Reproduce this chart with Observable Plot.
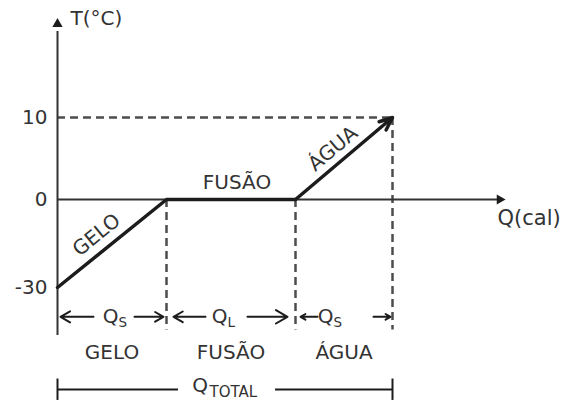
<!DOCTYPE html>
<html><head><meta charset="utf-8">
<script src="https://cdn.jsdelivr.net/npm/d3@7"></script>
<script src="https://cdn.jsdelivr.net/npm/@observablehq/plot@0.6"></script>
<style>html,body{margin:0;padding:0;background:#fff}</style>
</head><body><div id="chart"></div>
<script>
// --- data (schematic heating curve of ice -> water) ---
const phaseLabels = ["GELO", "FUSÃO", "ÁGUA"];
const qBreaks = [0, 109, 238, 335];        // Q (cal), schematic
const tBreaks = [-30, 0, 0, 10];           // T (°C)
const tTicks = [-30, 0, 10];
const tTickLabels = ["-30", "0", "10"];
const heatSymbols = ["Q", "Q", "Q"];
const heatSubs = ["S", "L", "S"];
const heatTextQ = [61, 170, 276];           // right edge of each "Q" (cal units)
const spanArrowStart = [36, 77, 148, 190, 260, 316];
const spanArrowEnd   = [3, 106, 116, 230, 243, 333];
const slopeLabelQ = [39, 179.5, 275.5];
const slopeLabelT = [-12.1, 2.1, 6.2];
const totalLabel = "Q", totalSub = "TOTAL";

// --- derived tables ---
const pts = qBreaks.map((q, i) => ({q, t: tBreaks[i]}));
const phases = phaseLabels.map((p, i) => ({
  label: p, q0: qBreaks[i], q1: qBreaks[i + 1], mid: (qBreaks[i] + qBreaks[i + 1]) / 2,
  qText: heatTextQ[i], sym: heatSymbols[i], sub: heatSubs[i]
}));
const spanArrows = spanArrowStart.map((s, i) => ({x1: s, x2: spanArrowEnd[i]}));
const slopeLabels = phaseLabels.map((p, i) => ({label: p, q: slopeLabelQ[i], t: slopeLabelT[i], rot: [-39, 0, -40][i]}));
const ticks = tTicks.map((t, i) => ({t, label: tTickLabels[i]}));

// layout rows (T units, below the curve)
const ROW_ARROWS = -40, ROW_NAMES = -52.2, ROW_TOTAL = -64.8, GUIDE_BOTTOM = -44.5;
const qEnd = qBreaks[3];

const font = "DejaVu Sans";
const ink = "#333", line = "#1c1c1c", dash = "#4d4d4d";
const FS = 20;

const plot = Plot.plot({
  width: 570, height: 400,
  marginTop: 0, marginRight: 0, marginBottom: 0, marginLeft: 0,
  x: {domain: [0, 448], range: [57, 505], axis: null},
  y: {type: "linear", domain: [-30, 0, 10], range: [287, 199, 117], axis: null},
  style: {fontFamily: font, background: "#fff"},
  marks: [
    // dashed guides
    Plot.ruleY([10], {x1: 0, x2: qEnd, stroke: dash, strokeWidth: 2.5, strokeDasharray: "8,5"}),
    Plot.ruleX([qBreaks[1], qBreaks[2]], {y1: 0, y2: GUIDE_BOTTOM, stroke: dash, strokeWidth: 2.5, strokeDasharray: "8,5"}),
    Plot.ruleX([qEnd], {y1: 10, y2: GUIDE_BOTTOM, stroke: dash, strokeWidth: 2.5, strokeDasharray: "8,5"}),
    // axes
    Plot.ruleX([0], {y1: -46.4, y2: 20.5, stroke: ink, strokeWidth: 2}),
    Plot.ruleY([0], {x1: 0, x2: 441, stroke: ink, strokeWidth: 2}),
    Plot.dot([{q: 0, t: 21.4}], {x: "q", y: "t", symbol: "triangle", r: 3.8, fill: line, stroke: "none"}),
    Plot.dot([{q: 442.2, t: 0}], {x: "q", y: "t", symbol: "triangle", r: 3.8, rotate: 90, fill: line, stroke: "none"}),
    // curve
    Plot.line(pts.slice(0, 3), {x: "q", y: "t", stroke: line, strokeWidth: 3.5}),
    Plot.arrow([{a: pts[2], b: pts[3]}], {x1: d => d.a.q, y1: d => d.a.t, x2: d => d.b.q, y2: d => d.b.t,
      stroke: line, strokeWidth: 3.5, headLength: 6, headAngle: 45}),
    // axis labels
    Plot.text(ticks, {x: 0, y: "t", text: "label", textAnchor: "end", dx: -10, fontSize: FS, fill: ink}),
    Plot.text(["T(°C)"], {x: 13, y: 22.1, text: d => d, textAnchor: "start", fontSize: FS, fill: ink}),
    Plot.text(["Q(cal)"], {x: 440, y: -6.5, text: d => d, textAnchor: "start", fontSize: 21, fill: ink}),
    // phase labels along the curve
    Plot.text(slopeLabels, {x: "q", y: "t", text: "label", rotate: "rot", fontSize: FS, fill: ink}),
    // span arrows
    Plot.arrow(spanArrows, {x1: "x1", x2: "x2", y1: ROW_ARROWS, y2: ROW_ARROWS, stroke: line, strokeWidth: 2, headLength: 10}),
    Plot.text(phases, {x: "qText", y: ROW_ARROWS, text: "sym", textAnchor: "end", fontSize: FS, fill: ink}),
    Plot.text(phases, {x: "qText", y: ROW_ARROWS, text: "sub", textAnchor: "start", dy: 6, fontSize: 13.5, fill: ink}),
    Plot.text(phases, {x: "mid", y: ROW_NAMES, text: "label", fontSize: FS, fill: ink}),
    // total bracket
    Plot.ruleY([{a: 0, b: 121}, {a: 218, b: qEnd}], {x1: "a", x2: "b", y: ROW_TOTAL, stroke: line, strokeWidth: 2}),
    Plot.ruleX([0, qEnd], {y1: -61.2, y2: -68.5, stroke: line, strokeWidth: 2}),
    Plot.text([totalLabel], {x: 150.5, y: ROW_TOTAL, text: d => d, textAnchor: "end", dy: -4, fontSize: FS, fill: ink}),
    Plot.text([totalSub], {x: 152, y: ROW_TOTAL, text: d => d, textAnchor: "start", dy: 3, fontSize: 15, fill: ink})
  ]
});
document.getElementById("chart").appendChild(plot);
</script>
</body></html>
